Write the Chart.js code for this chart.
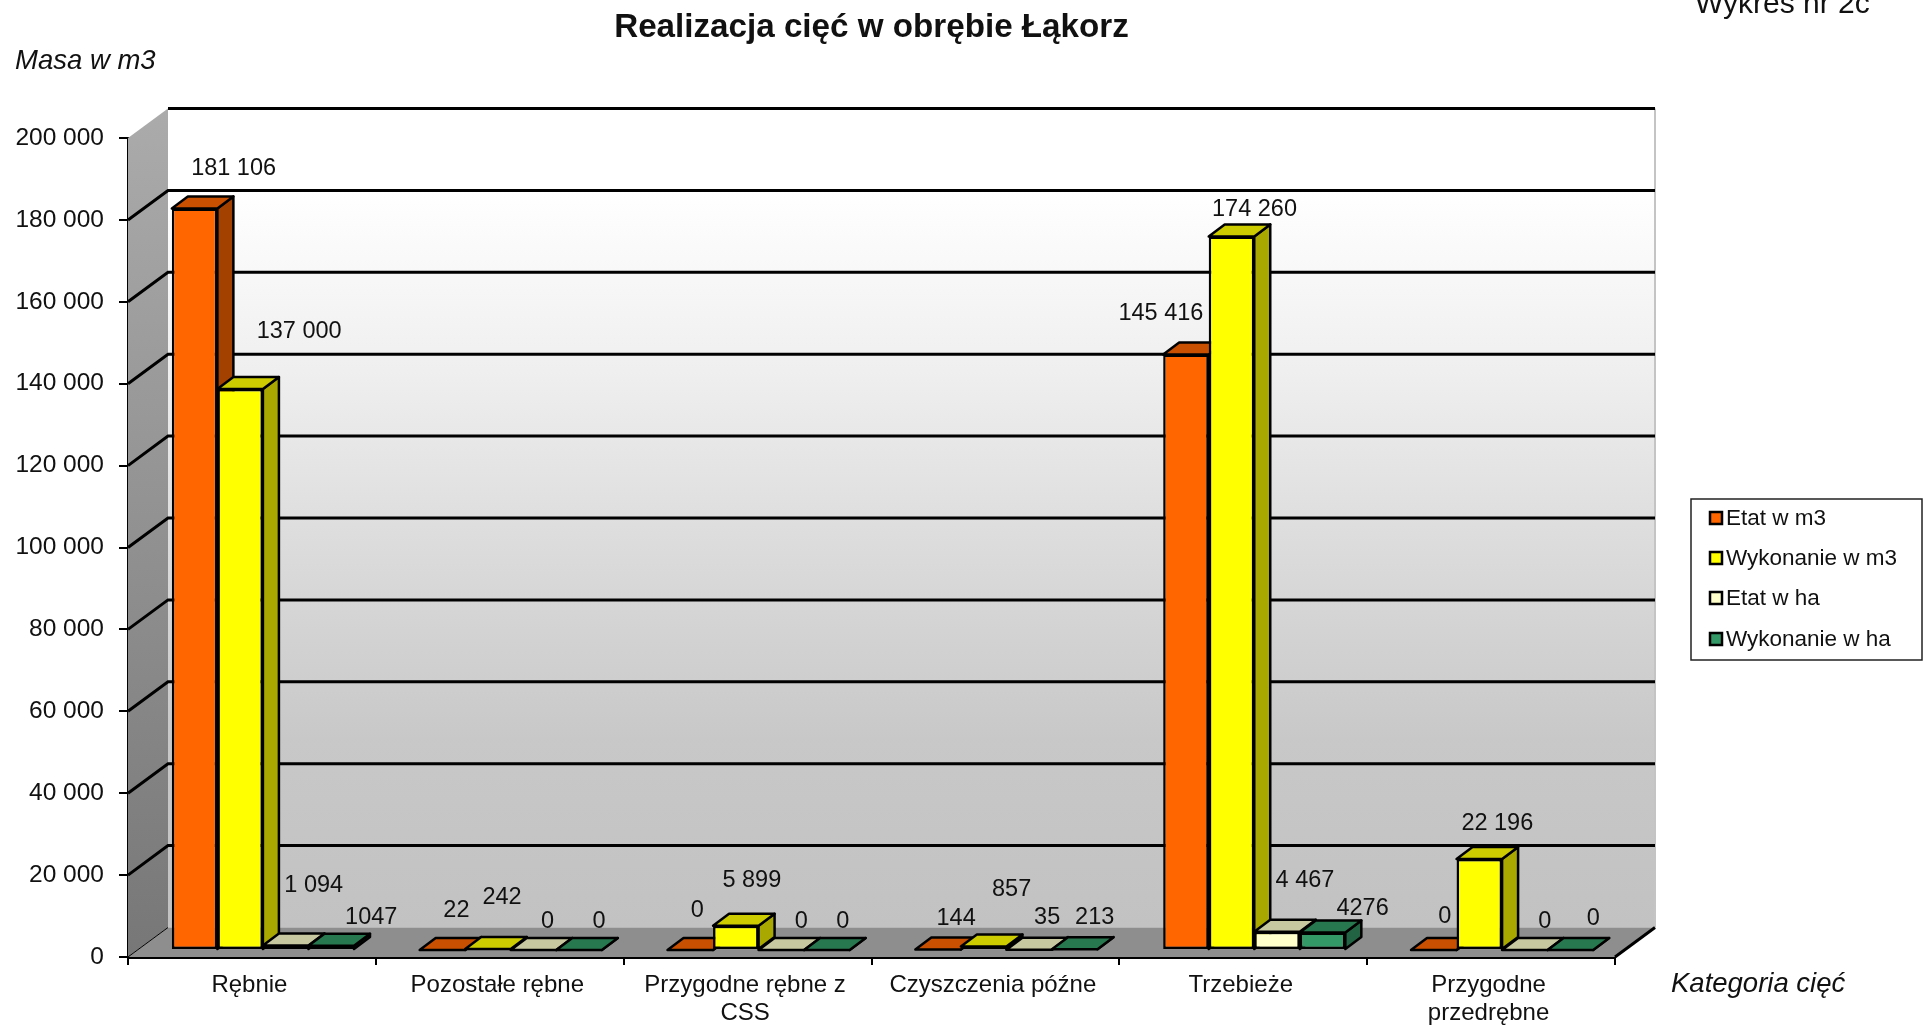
<!DOCTYPE html>
<html lang="pl">
<head>
    <meta charset="UTF-8">
    <title>Realizacja cięć w obrębie Łąkorz</title>
    <script src="https://cdn.jsdelivr.net/npm/chart.js"></script>
    <style>
        html, body { margin: 0; padding: 0; background: #fff; overflow: hidden; }
        canvas { display: block; filter: blur(0.5px); }
    </style>
</head>
<body>
    <canvas id="chart" width="1930" height="1026"></canvas>

    <script>
        const categories = ['Rębnie', 'Pozostałe rębne', ['Przygodne rębne z', 'CSS'], 'Czyszczenia późne', 'Trzebieże', ['Przygodne', 'przedrębne']];
        const etatM3 = [181106, 22, 0, 144, 145416, 0];
        const wykonanieM3 = [137000, 242, 5899, 857, 174260, 22196];
        const etatHa = [1094, 0, 0, 35, 4467, 0];
        const wykonanieHa = [1047, 0, 0, 213, 4276, 0];
        const seriesNames = ['Etat w m3', 'Wykonanie w m3', 'Etat w ha', 'Wykonanie w ha'];

        // kolory: przód, góra, bok
        const frontColors = ['#ff6600', '#ffff00', '#ffffcc', '#339966'];
        const topColors = ['#c85000', '#cccc00', '#c8c8a0', '#28784f'];
        const sideColors = ['#a34100', '#a8a800', '#a6a685', '#216342'];

        // etykiety stoją w oryginale tam, gdzie je ktoś przesunął ręcznie
        const labelDx = [
            [39, 14, 7, 18, -25, 11],
            [59, 14, 16, 28, 23, 18],
            [28, 14, 20, 18, 28, 20],
            [40, 20, 16, 20, 40, 23]
        ];
        const labelDy = [
            [-40, -39, -39, -31, -41, -33],
            [-57, -51, -45, -57, -27, -36],
            [-60, -28, -28, -32, -51, -28],
            [-28, -28, -28, -32, -24, -31]
        ];

        const FONT = '"Liberation Sans", Arial, sans-serif';
        const WALL_DX = 40, WALL_DY = -29.5; // przesunięcie tylnej ściany
        const BAR_DX = 11, BAR_DY = -7;      // słupki stoją na podłodze, nie na osi
        const DEPTH_X = 16, DEPTH_Y = -12;   // głębokość słupka

        function spaced(v) {
            return String(v).replace(/\B(?=(\d{3})+$)/g, ' ');
        }

        function poly(ctx, pts, fill) {
            ctx.beginPath();
            ctx.moveTo(pts[0][0], pts[0][1]);
            for (let i = 1; i < pts.length; i++) ctx.lineTo(pts[i][0], pts[i][1]);
            ctx.closePath();
            if (fill) {
                ctx.fillStyle = fill;
                ctx.fill();
            }
        }

        // ściany, podłoga i linie siatki
        const wallsPlugin = {
            id: 'walls',
            beforeDatasetsDraw(chart) {
                const ctx = chart.ctx;
                const a = chart.chartArea;
                const y = chart.scales.y;
                const bl = a.left + WALL_DX, br = a.right + WALL_DX;
                const bt = a.top + WALL_DY, bb = a.bottom + WALL_DY;

                ctx.save();
                const back = ctx.createLinearGradient(0, bt, 0, bb);
                back.addColorStop(0, '#ffffff');
                back.addColorStop(0.1, '#ffffff');
                back.addColorStop(0.32, '#efefef');
                back.addColorStop(0.53, '#dcdcdc');
                back.addColorStop(0.77, '#c8c8c8');
                back.addColorStop(1, '#c2c2c2');
                ctx.fillStyle = back;
                ctx.fillRect(bl, bt, br - bl, bb - bt);

                const left = ctx.createLinearGradient(0, bt, 0, a.bottom);
                left.addColorStop(0, '#ababab');
                left.addColorStop(1, '#777777');
                poly(ctx, [[a.left, a.top], [bl, bt], [bl, bb], [a.left, a.bottom]], left);
                poly(ctx, [[a.left, a.bottom], [bl, bb], [br, bb], [a.right, a.bottom]], '#8e8e8e');

                // prawa krawędź ściany
                ctx.strokeStyle = '#c4c4c4';
                ctx.lineWidth = 2;
                ctx.beginPath();
                ctx.moveTo(br, bt);
                ctx.lineTo(br, bb);
                ctx.stroke();

                ctx.strokeStyle = '#000';
                ctx.lineWidth = 3;
                y.ticks.forEach(t => {
                    if (t.value === 0) return;
                    const py = y.getPixelForValue(t.value);
                    ctx.beginPath();
                    if (t.value !== 200000) {
                        ctx.moveTo(a.left, py);
                        ctx.lineTo(bl, py + WALL_DY);
                    } else {
                        ctx.moveTo(bl, py + WALL_DY);
                    }
                    ctx.lineTo(br, py + WALL_DY);
                    ctx.stroke();
                });

                // krawędzie podłogi
                ctx.lineWidth = 1;
                ctx.beginPath();
                ctx.moveTo(a.left, a.bottom);
                ctx.lineTo(bl, bb);
                ctx.stroke();
                ctx.lineWidth = 3;
                ctx.beginPath();
                ctx.moveTo(a.right, a.bottom);
                ctx.lineTo(br, bb);
                ctx.stroke();
                ctx.restore();

                // słupki od lewej do prawej, bo prawy zasłania bok lewego
                ctx.save();
                ctx.translate(BAR_DX, BAR_DY);
                chart.data.datasets.forEach((ds, i) => {
                    const meta = chart.getDatasetMeta(i);
                    ctx.save();
                    ctx.strokeStyle = '#000';
                    ctx.lineWidth = 2.5;
                    ctx.lineJoin = 'round';
                    meta.data.forEach(el => {
                        const l = el.x - el.width / 2, r = el.x + el.width / 2;
                        poly(ctx, [[r, el.y], [r + DEPTH_X, el.y + DEPTH_Y], [r + DEPTH_X, el.base + DEPTH_Y], [r, el.base]], sideColors[i]);
                        ctx.stroke();
                        poly(ctx, [[l, el.y], [l + DEPTH_X, el.y + DEPTH_Y], [r + DEPTH_X, el.y + DEPTH_Y], [r, el.y]], topColors[i]);
                        ctx.stroke();
                    });
                    ctx.restore();
                    meta.controller.draw();
                });
                ctx.restore();
            },
            // wszystko już narysowane wyżej
            beforeDatasetDraw() {
                return false;
            },
            afterDatasetsDraw(chart) {
                const ctx = chart.ctx;

                // etykiety wartości
                ctx.save();
                ctx.font = '23.5px ' + FONT;
                ctx.fillStyle = '#111';
                ctx.textAlign = 'center';
                ctx.textBaseline = 'middle';
                chart.data.datasets.forEach((ds, i) => {
                    chart.getDatasetMeta(i).data.forEach((el, j) => {
                        const v = ds.data[j];
                        const txt = i === 3 ? String(v) : spaced(v);
                        ctx.fillText(txt, el.x + BAR_DX + labelDx[i][j], el.y + BAR_DY + labelDy[i][j]);
                    });
                });

                // podpisy osi i numer wykresu
                ctx.textAlign = 'left';
                ctx.font = 'italic 27.5px ' + FONT;
                ctx.fillText('Masa w m3', 15, 61);
                ctx.fillText('Kategoria cięć', 1671, 984);
                ctx.font = '30px ' + FONT;
                ctx.fillText('Wykres nr 2c', 1695, 5);

                // legenda
                ctx.fillStyle = '#fff';
                ctx.strokeStyle = '#222';
                ctx.lineWidth = 1.5;
                ctx.fillRect(1691, 499, 231, 161);
                ctx.strokeRect(1691, 499, 231, 161);
                const rows = [518, 558, 598, 639];
                seriesNames.forEach((name, i) => {
                    ctx.fillStyle = frontColors[i];
                    ctx.strokeStyle = '#000';
                    ctx.lineWidth = 2.5;
                    ctx.fillRect(1710, rows[i] - 6, 12, 12);
                    ctx.strokeRect(1710, rows[i] - 6, 12, 12);
                    ctx.fillStyle = '#111';
                    ctx.font = '22.5px ' + FONT;
                    ctx.fillText(name, 1726, rows[i] + 1);
                });
                ctx.restore();
            }
        };

        const allSeries = [etatM3, wykonanieM3, etatHa, wykonanieHa];

        new Chart(document.getElementById('chart'), {
            type: 'bar',
            data: {
                labels: categories,
                datasets: allSeries.map((values, i) => ({
                    label: seriesNames[i],
                    data: values,
                    backgroundColor: frontColors[i],
                    borderColor: '#000',
                    borderWidth: 2.5,
                    borderSkipped: false,
                    clip: false,
                    categoryPercentage: 0.735,
                    barPercentage: 1
                }))
            },
            options: {
                responsive: false,
                animation: false,
                layout: { autoPadding: false, padding: { right: 315 } },
                plugins: {
                    legend: { display: false },
                    tooltip: { enabled: false },
                    title: {
                        display: true,
                        text: 'Realizacja cięć w obrębie Łąkorz',
                        fullSize: false,
                        color: '#111',
                        font: { family: FONT, size: 33.2, weight: 'bold' },
                        padding: { top: 8.2, bottom: 90 }
                    }
                },
                scales: {
                    x: {
                        offset: true,
                        afterFit(s) { s.height = 69; },
                        grid: { offset: true, drawOnChartArea: false, color: '#000', lineWidth: 2, tickLength: 8 },
                        border: { color: '#000', width: 3 },
                        ticks: {
                            color: '#111',
                            font: { family: FONT, size: 24, lineHeight: 1.15 },
                            maxRotation: 0,
                            padding: 7,
                            labelOffset: -2.5
                        }
                    },
                    y: {
                        min: 0,
                        max: 200000,
                        afterFit(s) { s.width = 128; },
                        grid: { drawOnChartArea: false, color: '#000', lineWidth: 2, tickLength: 9 },
                        border: { color: '#000', width: 3 },
                        ticks: {
                            stepSize: 20000,
                            color: '#111',
                            font: { family: FONT, size: 24.5 },
                            padding: 15,
                            callback: v => spaced(v)
                        }
                    }
                }
            },
            plugins: [wallsPlugin]
        });
    </script>
</body>
</html>
